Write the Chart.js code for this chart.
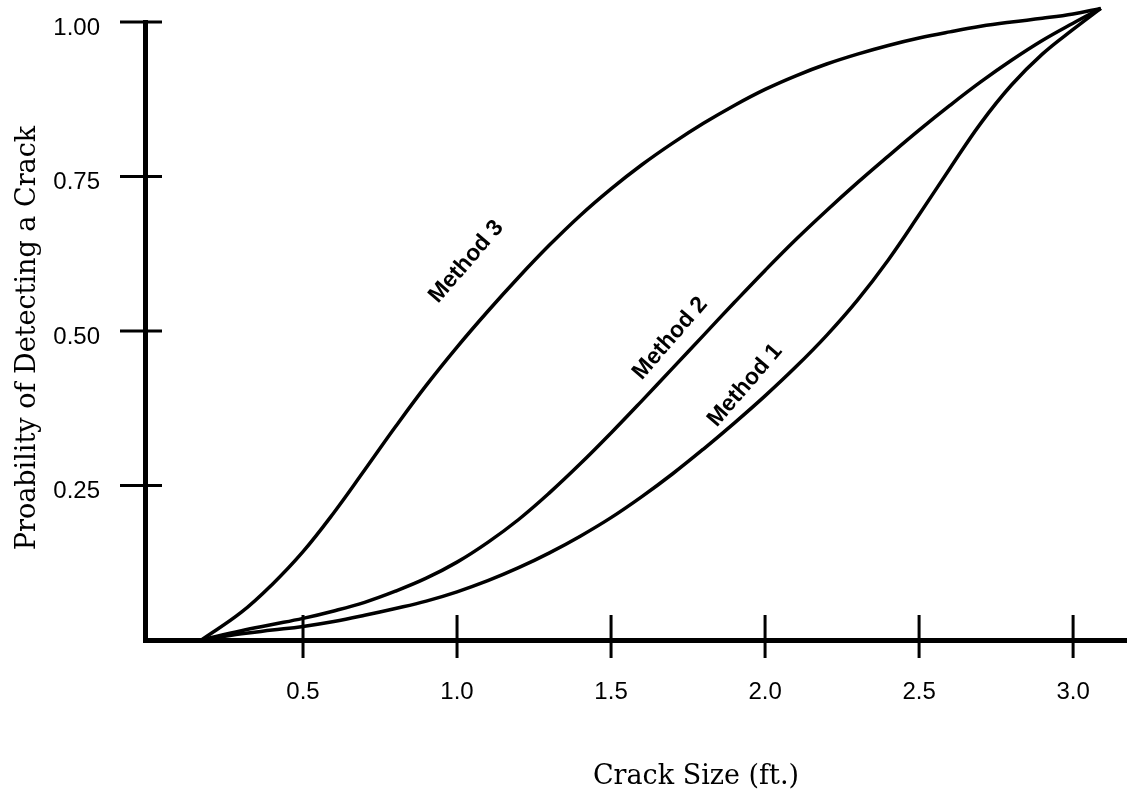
<!DOCTYPE html>
<html><head><meta charset="utf-8">
<script src="https://cdn.jsdelivr.net/npm/chart.js@4.4.0/dist/chart.umd.min.js"></script>
<style>html,body{margin:0;padding:0;background:#fff;}#wrap{width:1127px;height:795px;position:relative;}</style>
</head><body><div id="wrap"><canvas id="c" width="1127" height="795"></canvas></div>
<script>
// Crack size (ft.) sample positions shared by all curves
const crackSize = [0.17, 0.3, 0.4, 0.5, 0.6, 0.7, 0.8, 0.9, 1.0, 1.1, 1.2, 1.3, 1.4, 1.5, 1.6, 1.7, 1.8, 1.9, 2.0, 2.1, 2.2, 2.3, 2.4, 2.5, 2.6, 2.7, 2.8, 2.9, 3.0, 3.09];
const method1 = [0, 0.010, 0.016, 0.022, 0.030, 0.040, 0.051, 0.063, 0.078, 0.096, 0.117, 0.141, 0.168, 0.198, 0.232, 0.269, 0.309, 0.351, 0.395, 0.442, 0.493, 0.550, 0.615, 0.688, 0.763, 0.836, 0.898, 0.948, 0.988, 1.022];
const method2 = [0, 0.015, 0.025, 0.035, 0.047, 0.061, 0.079, 0.100, 0.126, 0.158, 0.195, 0.238, 0.285, 0.335, 0.387, 0.440, 0.493, 0.546, 0.598, 0.648, 0.695, 0.740, 0.783, 0.825, 0.865, 0.903, 0.938, 0.970, 0.998, 1.022];
const method3 = [0, 0.045, 0.090, 0.143, 0.206, 0.275, 0.345, 0.412, 0.474, 0.532, 0.587, 0.639, 0.687, 0.730, 0.769, 0.804, 0.836, 0.865, 0.891, 0.913, 0.932, 0.948, 0.962, 0.974, 0.984, 0.993, 1.000, 1.006, 1.013, 1.022];
const seriesNames = ['Method 1', 'Method 2', 'Method 3'];
const xTicks = [0.5, 1.0, 1.5, 2.0, 2.5, 3.0];
const xTickLabels = ['0.5', '1.0', '1.5', '2.0', '2.5', '3.0'];
const yTicks = [0.25, 0.5, 0.75, 1.0];
const yTickLabels = ['0.25', '0.50', '0.75', '1.00'];
const xTitle = 'Crack Size (ft.)';
const yTitle = 'Proability of Detecting a Crack';
// curve labels anchored in data coordinates
const labelX = [1.935, 1.692, 1.030];
const labelY = [0.412, 0.488, 0.612];
const labelAngle = [-49, -49, -49];

function pts(ys) { return crackSize.map((x, i) => ({x: x, y: ys[i]})); }

const deco = {
  id: 'deco',
  afterDraw(chart) {
    const ctx = chart.ctx, xs = chart.scales.x, ys = chart.scales.y;
    ctx.save();
    ctx.strokeStyle = '#000';
    ctx.lineWidth = 3;
    yTicks.forEach(v => {
      const py = ys.getPixelForValue(v);
      ctx.beginPath(); ctx.moveTo(xs.left - 25, py); ctx.lineTo(xs.left + 17, py); ctx.stroke();
    });
    xTicks.forEach(v => {
      const px = xs.getPixelForValue(v);
      ctx.beginPath(); ctx.moveTo(px, ys.bottom - 25); ctx.lineTo(px, ys.bottom + 18); ctx.stroke();
    });
    ctx.fillStyle = '#000';
    ctx.font = 'bold 23px "Liberation Sans", Arial, sans-serif';
    ctx.textAlign = 'center'; ctx.textBaseline = 'middle';
    seriesNames.forEach((n, i) => {
      ctx.save();
      ctx.translate(xs.getPixelForValue(labelX[i]), ys.getPixelForValue(labelY[i]));
      ctx.rotate(labelAngle[i] * Math.PI / 180);
      ctx.fillText(n, 0, 0);
      ctx.restore();
    });
    ctx.font = '27px "DejaVu Serif", serif';
    ctx.fillText(xTitle, 696, 777);
    ctx.save();
    ctx.translate(28, 338);
    ctx.rotate(-Math.PI / 2);
    ctx.fillText(yTitle, 0, 0);
    ctx.restore();
    ctx.restore();
  }
};

const lineStyle = {borderColor: '#000', borderWidth: 3.5, pointRadius: 0, showLine: true, fill: false, tension: 0.4, clip: false};

new Chart(document.getElementById('c'), {
  type: 'scatter',
  data: {
    datasets: [
      Object.assign({label: seriesNames[0], data: pts(method1)}, lineStyle),
      Object.assign({label: seriesNames[1], data: pts(method2)}, lineStyle),
      Object.assign({label: seriesNames[2], data: pts(method3)}, lineStyle)
    ]
  },
  options: {
    responsive: false, devicePixelRatio: 1, animation: false,
    layout: {padding: {top: 22, right: 0, left: 0, bottom: 0}},
    plugins: {legend: {display: false}, tooltip: {enabled: false}, title: {display: false}},
    scales: {
      x: {
        type: 'linear', min: -0.013, max: 3.175,
        afterFit: s => { s.height = 155; s.paddingLeft = 0; s.paddingRight = 0; },
        afterBuildTicks: s => { s.ticks = xTicks.map(v => ({value: v})); },
        grid: {display: false, drawTicks: false},
        border: {display: true, color: '#000', width: 5},
        ticks: {color: '#000', padding: 38, maxRotation: 0, autoSkip: false,
          font: {family: '"Liberation Sans", Arial, sans-serif', size: 24},
          callback: v => xTickLabels[xTicks.indexOf(v)]}
      },
      y: {
        type: 'linear', min: 0, max: 1,
        afterFit: s => { s.width = 145; s.paddingTop = 0; s.paddingBottom = 0; },
        afterBuildTicks: s => { s.ticks = yTicks.map(v => ({value: v})); },
        grid: {display: false, drawTicks: false},
        border: {display: true, color: '#000', width: 5},
        ticks: {color: '#000', padding: 45, labelOffset: 6, autoSkip: false,
          font: {family: '"Liberation Sans", Arial, sans-serif', size: 24},
          callback: v => yTickLabels[yTicks.indexOf(v)]}
      }
    }
  },
  plugins: [deco]
});
</script></body></html>
